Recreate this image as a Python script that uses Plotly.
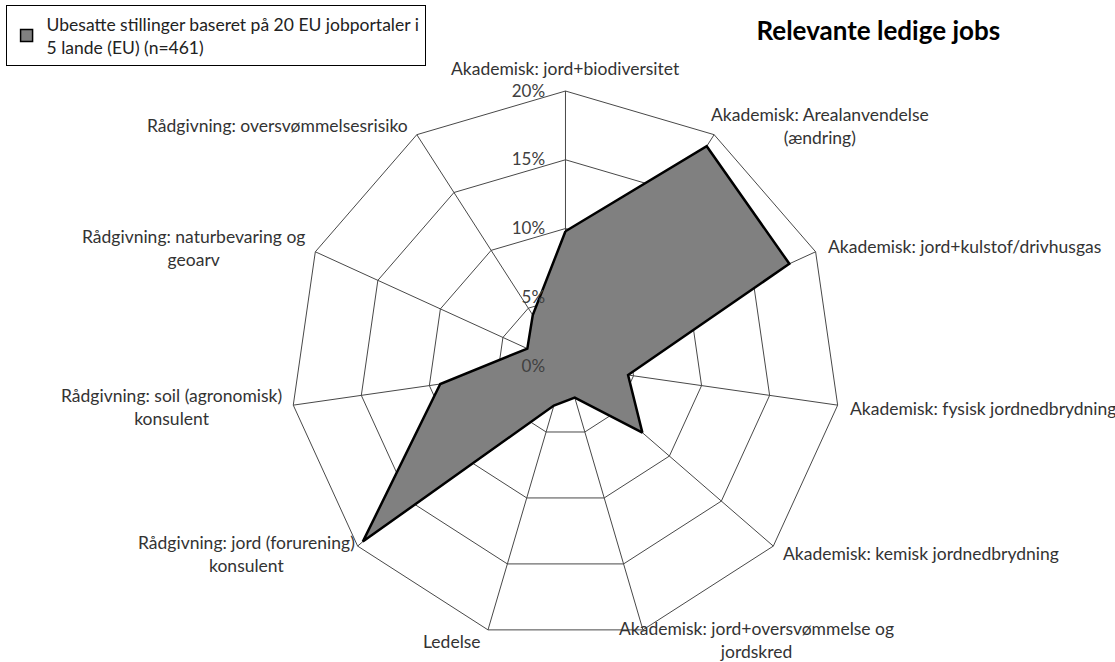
import plotly.graph_objects as go

categories = [
    "Akademisk: jord+biodiversitet",
    "Akademisk: Arealanvendelse (ændring)",
    "Akademisk: jord+kulstof/drivhusgas",
    "Akademisk: fysisk jordnedbrydning",
    "Akademisk: kemisk jordnedbrydning",
    "Akademisk: jord+oversvømmelse og jordskred",
    "Ledelse",
    "Rådgivning: jord (forurening) konsulent",
    "Rådgivning: soil (agronomisk) konsulent",
    "Rådgivning: naturbevaring og geoarv",
    "Rådgivning: oversvømmelsesrisiko",
]
tick_labels = [
    "Akademisk: jord+biodiversitet",
    "Akademisk: Arealanvendelse<br>(ændring)",
    "Akademisk: jord+kulstof/drivhusgas",
    "Akademisk: fysisk jordnedbrydning",
    "Akademisk: kemisk jordnedbrydning",
    "Akademisk: jord+oversvømmelse og<br>jordskred",
    "Ledelse",
    "Rådgivning: jord (forurening)<br>konsulent",
    "Rådgivning: soil (agronomisk)<br>konsulent",
    "Rådgivning: naturbevaring og<br>geoarv",
    "Rådgivning: oversvømmelsesrisiko",
]
values = [9.8, 19.0, 17.9, 4.6, 7.4, 2.4, 3.0, 19.5, 9.2, 3.05, 4.4]
radial_ticks = [0, 5, 10, 15, 20]
radial_ticktext = ["0%", "5%", "10%", "15%", "20%"]
series_name = "Ubesatte stillinger baseret på 20 EU jobportaler i<br>5 lande (EU) (n=461)"
title_text = "Relevante ledige jobs"

# label placement (pixels in the 1115x662 canvas: x, y, xanchor)
W, H = 1115, 662
label_pos = [
    (565, 69, "center"),
    (820, 126, "center"),
    (826, 247, "left"),
    (848, 408, "left"),
    (781, 553, "left"),
    (756, 640, "center"),
    (452, 641, "center"),
    (246, 554, "center"),
    (171, 407, "center"),
    (193, 248, "center"),
    (410, 126, "right"),
]

FONT = "Lato"
GRID = "#484848"

fig = go.Figure()
fig.add_trace(go.Scatterpolar(
    r=values + values[:1],
    theta=categories + categories[:1],
    mode="lines",
    fill="toself",
    fillcolor="#808080",
    line=dict(color="black", width=2.5),
    name=series_name,
    legendgroup="s",
    showlegend=False,
))
# legend entry (square swatch like the reference)
fig.add_trace(go.Scatterpolar(
    r=[None], theta=[None],
    mode="markers",
    marker=dict(symbol="square", size=12, color="#808080",
                line=dict(color="black", width=1.5)),
    name=series_name,
    legendgroup="s",
    showlegend=True,
))

for txt, (px, py, xa) in zip(tick_labels, label_pos):
    fig.add_annotation(
        text=txt, x=px / W, y=1 - py / H, xref="paper", yref="paper",
        xanchor=xa, yanchor="middle", align="center", showarrow=False,
        font=dict(family=FONT, size=17.5, color="#333333"),
    )

fig.update_layout(
    width=W, height=H,
    margin=dict(l=0, r=0, t=0, b=0),
    paper_bgcolor="white",
    font=dict(family=FONT, size=17, color="#404040"),
    title=dict(text="<b>" + title_text + "</b>", x=0.7877, xanchor="center",
               y=0.953, yanchor="middle", yref="container",
               font=dict(family=FONT, size=26, color="black")),
    legend=dict(x=0.005, y=0.992, xanchor="left", yanchor="top",
                bordercolor="black", borderwidth=1, bgcolor="white",
                font=dict(family=FONT, size=17.5, color="#222222")),
    polar=dict(
        domain=dict(x=[0.2605, 0.7538], y=[0.0317, 0.8625]),
        bgcolor="white",
        gridshape="linear",
        angularaxis=dict(
            type="category",
            categoryorder="array", categoryarray=categories,
            rotation=90, direction="clockwise",
            showgrid=True, gridcolor=GRID, gridwidth=1,
            showline=True, linecolor=GRID, linewidth=1,
            ticks="", showticklabels=False, layer="above traces",
        ),
        radialaxis=dict(
            range=[0, 20],
            tickvals=radial_ticks, ticktext=radial_ticktext,
            angle=90, tickangle=90, side="counterclockwise",
            showgrid=True, gridcolor=GRID, gridwidth=1,
            showline=False, ticks="outside", ticklen=14,
            tickcolor="rgba(0,0,0,0)", layer="above traces",
            tickfont=dict(family=FONT, size=17, color="#404040"),
        ),
    ),
)

fig.write_html(
    "out.html",
    config={"displayModeBar": False},
    post_script="document.body.style.margin='0';document.body.style.overflow='hidden';",
)
